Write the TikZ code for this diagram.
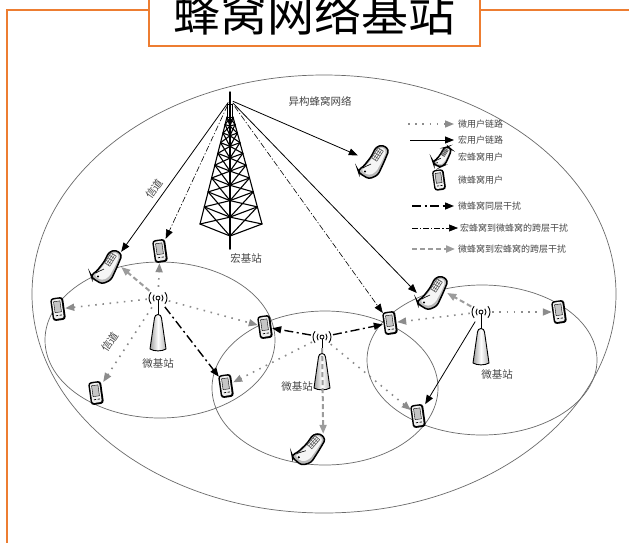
\documentclass[tikz,border=0pt]{standalone}
\usepackage{fontspec}
\setmainfont{Noto Sans CJK SC}
\usetikzlibrary{arrows.meta}
\definecolor{frameorange}{HTML}{ED7D31}
\definecolor{inktext}{HTML}{454545}
\definecolor{cellline}{HTML}{6A6A6A}
\definecolor{linkgray}{HTML}{8C8C8C}
\definecolor{dashgray}{HTML}{9C9C9C}

\tikzset{
  arrowtip/.style={-{Triangle[length=9pt,width=7pt]}},
  cellring/.style={draw=cellline,line width=0.7pt},
  lbltext/.style={text=inktext,inner sep=0pt,font=\fontsize{10.5}{12}\selectfont},
  legendtext/.style={text=inktext,inner sep=0pt,anchor=west,font=\fontsize{9}{10}\selectfont},
  microlink/.style={draw=linkgray,line width=1.6pt,dash pattern=on 1.6pt off 5.6pt,arrowtip},
  macrolink/.style={draw=black,line width=0.8pt,arrowtip},
  cotier/.style={draw=black,line width=1.4pt,dash pattern=on 9pt off 3.5pt on 2pt off 3.5pt,arrowtip},
  crossdown/.style={draw=black,line width=0.6pt,dash pattern=on 6pt off 2pt on 1.2pt off 2pt,arrowtip},
  crossup/.style={draw=dashgray,line width=2pt,dash pattern=on 5pt off 3pt,arrowtip},
  uphone/.style={rectangle,minimum width=14pt,minimum height=24pt,inner sep=0pt},
  mphone/.style={rectangle,minimum width=30pt,minimum height=30pt,inner sep=0pt},
  bsarea/.style={circle,minimum size=22pt,inner sep=0pt},
  % PDA-style handset of a micro-cell user
  microphone/.pic={
    \fill[black,rounded corners=3pt] (-6.5,-11.5) rectangle (6.5,11.5);
    \fill[gray!12,rounded corners=2pt] (-5,-10) rectangle (4.6,9.6);
    \filldraw[fill=gray!45,draw=black,line width=0.4pt] (-3.4,-7.8) rectangle (3,3.2);
    \draw[line width=0.7pt] (-3,6.4) -- (-0.8,6.4) (0.8,6.4) -- (3,6.4);
  },
  % flip phone of a macro-cell user
  macrophone/.pic={
    \filldraw[fill=gray!55,draw=black,line width=1.5pt,rounded corners=3pt]
      (10,-17) -- (16,-12) -- (11,0) -- (5,13) -- (-4,17) -- (-14,11) -- (-15,8)
      -- (-10,5) -- (-2,-5) -- (3,-15) -- cycle;
    \fill[gray!8,rounded corners=3pt]
      (9.5,-15) -- (13.5,-11) -- (9,-1) -- (3,10) -- (-4,13.5) -- (-12,9)
      -- (-9,6.5) -- (-1,-3.5) -- (4,-13) -- cycle;
    \draw[line width=0.5pt,gray!60!black] (-1.3,-4.1) -- (3.8,-0.8) -- (10.3,-10.9) -- (5.2,-14.2) -- cycle;
    \draw[line width=0.4pt,gray!60!black]
      (0.42,-3.0) -- (6.9,-13.08) (2.1,-1.92) -- (8.58,-12.0)
      (0.36,-6.6) -- (5.4,-3.36) (1.98,-9.12) -- (7.02,-5.88) (3.6,-11.64) -- (8.64,-8.4);
    \draw[line width=0.6pt] (-10.5,6) -- (-2,2);
    \fill (-8,9.5) circle (1.2);
  },
  % small cell base station with its radio waves
  microbs/.pic={
    \foreach \r in {5,9}{
      \draw[line width=0.9pt] (140:\r) arc[start angle=140,end angle=220,radius=\r];
      \draw[line width=0.9pt] (-40:\r) arc[start angle=-40,end angle=40,radius=\r];
    }
    \draw[line width=1pt] (0,0) -- (0,19);
    \shade[left color=gray!75,right color=gray!60,middle color=white]
      (-8,51) -- (-3.5,20) arc[start angle=180,end angle=360,radius=3.5] -- (8,51)
      .. controls (4,53.5) and (-4,53.5) .. (-8,51) -- cycle;
    \draw[line width=0.9pt]
      (-8,51) -- (-3.5,20) arc[start angle=180,end angle=360,radius=3.5] -- (8,51)
      .. controls (4,53.5) and (-4,53.5) .. (-8,51) -- cycle;
    \filldraw[fill=white,draw=black,line width=0.8pt] (0,0) circle (2);
  },
}

\begin{document}
\begin{tikzpicture}[x=1pt,y=-1pt]
\path[use as bounding box] (0,0) rectangle (629,542);
\clip (0,0) rectangle (629,542);
\fill[white] (0,0) rectangle (629,542);

% frame and title
\draw[frameorange,line width=2.5pt] (7,545) -- (7,10) -- (632,10);
\node[draw=frameorange,fill=white,line width=2.5pt,minimum width=331pt,minimum height=80pt,inner sep=0pt,anchor=south] (titlebox) at (314.5,47) {};
\node[font=\fontsize{47}{50}\selectfont,inner sep=0pt] (titletext) at (314,13) {蜂窝网络基站};

% coverage areas
\draw[cellring] (324,294) ellipse [x radius=292, y radius=219];
\draw[cellring] (160,340) ellipse [x radius=115, y radius=78];
\draw[cellring] (325,388) ellipse [x radius=113, y radius=77];
\draw[cellring] (482,360) ellipse [x radius=115, y radius=75];

% macro base station lattice tower
\begin{scope}[line width=1.1pt,line cap=round]
  \draw[line width=1.5pt] (230,92) -- (230,249);
  \draw[line width=0.9pt] (227.5,104) rectangle (232.5,117);
  \draw (227,117) -- (200,224);
  \draw (233,117) -- (262,224);
  \foreach \a/\b in {0/0.07,0.07/0.15,0.15/0.24,0.24/0.34,0.34/0.45,0.45/0.57,0.57/0.7,0.7/0.84,0.84/1}{
    \draw (227-27*\b,117+107*\b) -- (230,118+118*\b) -- (233+29*\b,117+107*\b);
    \draw (227-27*\a,117+107*\a) -- (230,118+118*\b) -- (233+29*\a,117+107*\a);
    \draw (227-27*\b,117+107*\b) -- (230,118+118*\a) -- (233+29*\b,117+107*\b);
  }
\end{scope}
\coordinate (TWR) at (230,100);

% texts
\node[lbltext] (hetnet) at (320,101) {异构蜂窝网络};
\node[lbltext] (macrobs) at (246,258) {宏基站};
\node[lbltext] (bs1txt) at (158,364) {微基站};
\node[lbltext] (bs2txt) at (297,387) {微基站};
\node[lbltext] (bs3txt) at (497,375) {微基站};

% small cell base stations
\node[bsarea] (B1) at (158,298) {};
\node[bsarea] (B2) at (322,337) {};
\node[bsarea] (B3) at (481,312) {};
\path (B1) pic {microbs};
\path (B2) pic {microbs};
\path (B3) pic {microbs};

% macro-cell users
\node[mphone] (M1) at (106,267) {};
\node[mphone] (M2) at (373,162) {};
\node[mphone] (M3) at (432,293) {};
\node[mphone] (M4) at (308,449) {};
\path (M1) pic {macrophone};
\path (M2) pic {macrophone};
\path (M3) pic {macrophone};
\path (M4) pic[rotate=-8] {macrophone};

% micro-cell users
\node[uphone] (P1) at (160,251) {};
\node[uphone] (P2) at (58,309) {};
\node[uphone] (P3) at (96,393) {};
\node[uphone] (P4) at (265,327) {};
\node[uphone] (P5) at (226,386) {};
\node[uphone] (P6) at (390,323) {};
\node[uphone] (P7) at (418,416) {};
\node[uphone] (P8) at (559,312) {};
\foreach \p in {P1,P2,P3,P4,P5,P6,P7,P8}{
  \path (\p) pic[rotate=8] {microphone};
}

% links from the macro base station
\draw[macrolink,shorten <=3pt] (TWR) -- (M1.north east);
\draw[crossdown,shorten <=6pt] (TWR) -- (P1);
\draw[macrolink,shorten <=3pt] (TWR) -- (M2);
\draw[macrolink,shorten <=4pt] (TWR) -- (M3.west);
\draw[crossdown,shorten <=8pt] (TWR) -- (P6);
\node[lbltext,rotate=54] (ch1) at (154,189) {信道};

% first small cell
\draw[microlink] (B1) -- (P2);
\draw[microlink] (B1) -- (P1);
\draw[crossup] (B1) -- (M1.east);
\draw[microlink] (B1) -- (P3);
\draw[microlink] (B1) -- (P4);
\draw[cotier] (B1) -- (P5);
\node[lbltext,rotate=57] (ch2) at (110,342) {信道};

% second small cell
\draw[cotier] (B2) -- (P4);
\draw[cotier] (B2) -- (P6);
\draw[microlink] (B2) -- (P5);
\draw[microlink] (B2) -- (P7);
\draw[crossup] (B2) -- (M4.north east);

% third small cell
\draw[microlink] (B3) -- (P6);
\draw[microlink] (B3) -- (P8);
\draw[crossup] (B3) -- (M3.east);
\draw[macrolink] (B3) -- (P7);

% legend
\coordinate (lg1a) at (408,124); \coordinate (lg1b) at (454,124);
\coordinate (lg2a) at (410,140); \coordinate (lg2b) at (454,140);
\coordinate (lg5a) at (412,206); \coordinate (lg5b) at (454,206);
\coordinate (lg6a) at (412,228); \coordinate (lg6b) at (458,228);
\coordinate (lg7a) at (412,249); \coordinate (lg7b) at (455,249);
\draw[microlink] (lg1a) -- (lg1b);
\draw[macrolink] (lg2a) -- (lg2b);
\node[mphone,minimum width=18pt,minimum height=18pt] (lg3) at (442,157) {};
\path (lg3) pic[scale=0.6] {macrophone};
\node[uphone] (lg4) at (439,180) {};
\path (lg4) pic[rotate=8,scale=0.9] {microphone};
\draw[cotier] (lg5a) -- (lg5b);
\draw[crossdown] (lg6a) -- (lg6b);
\draw[crossup] (lg7a) -- (lg7b);
\node[legendtext] (lgt1) at (458,124) {微用户链路};
\node[legendtext] (lgt2) at (458,140) {宏用户链路};
\node[legendtext] (lgt3) at (458,157) {宏蜂窝用户};
\node[legendtext] (lgt4) at (458,180) {微蜂窝用户};
\node[legendtext] (lgt5) at (458,206) {微蜂窝同层干扰};
\node[legendtext] (lgt6) at (460,228) {宏蜂窝到微蜂窝的跨层干扰};
\node[legendtext] (lgt7) at (458,249) {微蜂窝到宏蜂窝的跨层干扰};
\end{tikzpicture}
\end{document}
